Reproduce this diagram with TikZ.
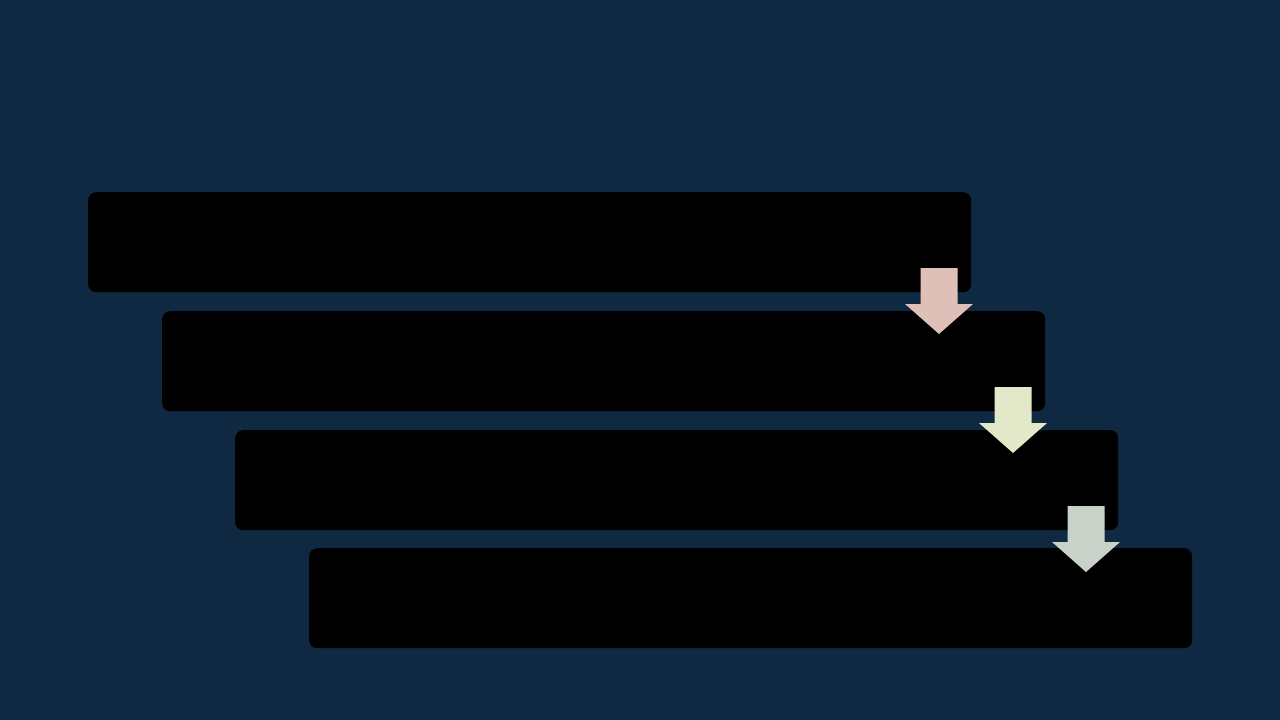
\documentclass[tikz,border=0pt]{standalone}
\usepackage{tikz}
\usetikzlibrary{positioning}
\definecolor{navybg}{RGB}{15, 41, 66}
\definecolor{stepA}{RGB}{223, 192, 184}
\definecolor{stepB}{RGB}{227, 232, 200}
\definecolor{stepC}{RGB}{201, 210, 200}
\begin{document}
\begin{tikzpicture}[
	x=1pt, y=-1pt,
	bar/.style={rectangle, fill=black, rounded corners=8pt, minimum width=883pt, minimum height=100pt, inner sep=0pt, anchor=north west},
	downarrow/.style={draw=none}
	]
	\fill[navybg] (0,0) rectangle (1280,720);
	\useasboundingbox (0,0) rectangle (1280,720);
	\node[bar] (s1) at (88,192) {};
	\node[bar] (s2) at (162,311) {};
	\node[bar] (s3) at (235,430) {};
	\node[bar] (s4) at (309,548) {};
	
	% arrows between the bars
	\coordinate (a1) at (939,268);
	\coordinate (a2) at (1013,387);
	\coordinate (a3) at (1086,506);
	\fill[stepA] (a1) ++(-18.5,0) -- ++(37,0) -- ++(0,36) -- ++(15.5,0) -- ++(-34,30) -- ++(-34,-30) -- ++(15.5,0) -- cycle;
	\fill[stepB] (a2) ++(-18.5,0) -- ++(37,0) -- ++(0,36) -- ++(15.5,0) -- ++(-34,30) -- ++(-34,-30) -- ++(15.5,0) -- cycle;
	\fill[stepC] (a3) ++(-18.5,0) -- ++(37,0) -- ++(0,36) -- ++(15.5,0) -- ++(-34,30) -- ++(-34,-30) -- ++(15.5,0) -- cycle;
\end{tikzpicture}
\end{document}
